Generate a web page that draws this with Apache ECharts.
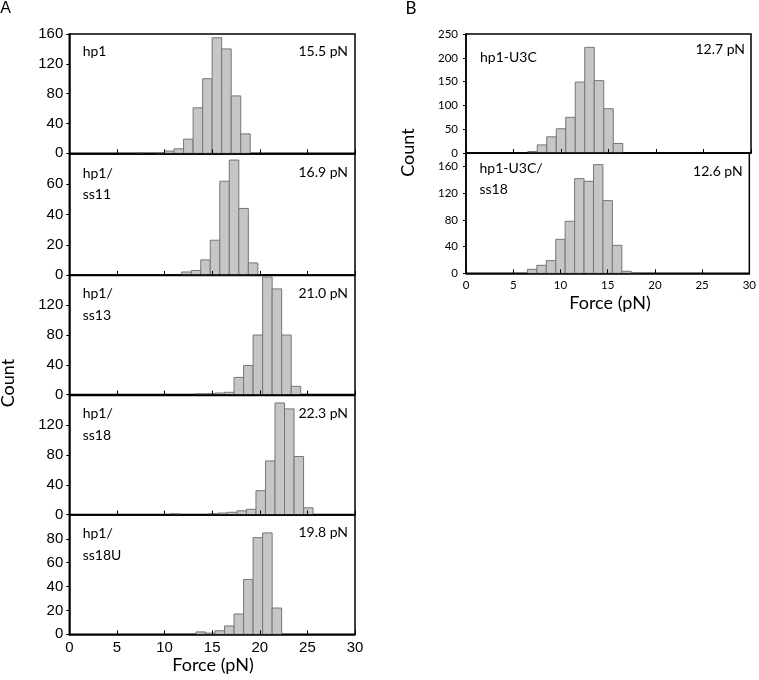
<!DOCTYPE html>
<html><head><meta charset="utf-8">
<script src="https://cdn.jsdelivr.net/npm/echarts@6/dist/echarts.min.js"></script>
<style>html,body{margin:0;padding:0;background:#fff}#c{width:759px;height:680px}</style>
</head><body><div id="c"></div>
<script>
// ---- data (bin left edges in pN, bin width 1 pN; counts) ----
const BIN_W = 1;
const binsHp1 = [7, 9, 10, 11, 12, 13, 14, 15, 16, 17, 18];
const countsHp1 = [1, 1, 3, 6, 19, 61, 100, 155, 140, 77, 26];
const binsSs11 = [11.8, 12.8, 13.8, 14.8, 15.8, 16.8, 17.8, 18.8];
const countsSs11 = [2, 3, 10, 23, 62, 76, 44, 8];
const binsSs13 = [13.3, 14.3, 15.3, 16.3, 17.3, 18.3, 19.3, 20.3, 21.3, 22.3, 23.3];
const countsSs13 = [1, 1, 2, 3, 23, 39, 80, 158, 142, 80, 11];
const binsSs18 = [10.6, 14.6, 15.6, 16.6, 17.6, 18.6, 19.6, 20.6, 21.6, 22.6, 23.6, 24.6];
const countsSs18 = [1, 1, 2, 3, 5, 7, 32, 72, 150, 142, 78, 9];
const binsSs18U = [13.3, 14.3, 15.3, 16.3, 17.3, 18.3, 19.3, 20.3, 21.3];
const countsSs18U = [2, 1, 3, 7, 17, 46, 81, 85, 22];
const binsU3C = [6.5, 7.5, 8.5, 9.5, 10.5, 11.5, 12.5, 13.5, 14.5, 15.5];
const countsU3C = [3, 17, 34, 51, 75, 149, 222, 152, 93, 20];
const binsU3CSs18 = [6.5, 7.5, 8.5, 9.5, 10.5, 11.5, 12.5, 13.5, 14.5, 15.5, 16.5, 17.5];
const countsU3CSs18 = [6, 12, 19, 51, 78, 142, 138, 163, 109, 42, 3, 1];

const panelNames = ['hp1', 'hp1/\nss11', 'hp1/\nss13', 'hp1/\nss18', 'hp1/\nss18U', 'hp1-U3C', 'hp1-U3C/\nss18'];
const meanForces = ['15.5 pN', '16.9 pN', '21.0 pN', '22.3 pN', '19.8 pN', '12.7 pN', '12.6 pN'];
const xTickLabels = [0, 5, 10, 15, 20, 25, 30];

// ---- layout ----
const seriesData = [
  [binsHp1, countsHp1], [binsSs11, countsSs11], [binsSs13, countsSs13],
  [binsSs18, countsSs18], [binsSs18U, countsSs18U], [binsU3C, countsU3C], [binsU3CSs18, countsU3CSs18]
];
const layout = [
  {left: 69.3, top: 34, width: 285.7, height: 119.3, ymax: 160, yint: 40, showMax: true, bottom: false, font: 'A'},
  {left: 69.3, top: 154, width: 285.7, height: 121, ymax: 80, yint: 20, showMax: false, bottom: false, font: 'A'},
  {left: 69.3, top: 275.5, width: 285.7, height: 119, ymax: 160, yint: 40, showMax: false, bottom: false, font: 'A'},
  {left: 69.3, top: 395.5, width: 285.7, height: 119, ymax: 160, yint: 40, showMax: false, bottom: false, font: 'A'},
  {left: 69.3, top: 515, width: 285.7, height: 119.3, ymax: 100, yint: 20, showMax: false, bottom: true, font: 'A'},
  {left: 466, top: 34, width: 285, height: 119, ymax: 250, yint: 50, showMax: true, bottom: false, font: 'B'},
  {left: 466, top: 153.3, width: 285, height: 120, ymax: 180, yint: 40, showMax: false, bottom: true, font: 'B'}
];
const labelPos = [
  {lx: 82.7, ly: 51.5, rx: 348, ry: 51},
  {lx: 82.7, ly: 173, rx: 348, ry: 172.5},
  {lx: 82.7, ly: 293.5, rx: 348, ry: 293.5},
  {lx: 82.7, ly: 413.5, rx: 348, ry: 413},
  {lx: 82.7, ly: 533.5, rx: 348, ry: 532.5},
  {lx: 480, ly: 57, rx: 745, ry: 49.5},
  {lx: 479.5, ly: 168, rx: 742.7, ry: 171.5}
];
const fontA = 'Liberation Sans, Arial, sans-serif';
const fontB = 'Lato, Open Sans, sans-serif';

function renderItem(params, api) {
  const x0 = api.value(0), c = api.value(1);
  const p1 = api.coord([x0, c]);
  const p2 = api.coord([x0 + BIN_W, 0]);
  return {
    type: 'rect',
    shape: {x: p1[0], y: p1[1], width: p2[0] - p1[0], height: p2[1] - p1[1]},
    style: {fill: '#c6c6c6', stroke: '#767676', lineWidth: 1}
  };
}

const grid = [], xAxis = [], yAxis = [], series = [], graphic = [];
layout.forEach((L, i) => {
  const ff = L.font === 'A' ? fontA : fontB;
  const fs = L.font === 'A' ? 15 : 11.5;
  grid.push({left: L.left, top: L.top, width: L.width, height: L.height,
    show: true, borderColor: '#000', borderWidth: 1.5, containLabel: false});
  xAxis.push({type: 'value', gridIndex: i, min: 0, max: 30, interval: 5, z: 5,
    axisLine: {show: true, onZero: false, lineStyle: {color: '#000', width: 1.5}},
    axisTick: {show: true, inside: true, length: 4, lineStyle: {color: '#000', width: 1}},
    splitLine: {show: false},
    axisLabel: {show: L.bottom, color: '#000', fontFamily: ff, fontSize: fs, margin: 6,
      formatter: v => xTickLabels.includes(v) ? String(v) : ''}});
  yAxis.push({type: 'value', gridIndex: i, min: 0, max: L.ymax, interval: L.yint, z: 5,
    axisLine: {show: true, lineStyle: {color: '#000', width: 1.5}},
    axisTick: {show: true, inside: false, length: 3, lineStyle: {color: '#000', width: 1}},
    splitLine: {show: false},
    axisLabel: {color: '#000', fontFamily: ff, fontSize: fs, margin: L.font === 'A' ? 6 : 8,
      showMaxLabel: L.showMax}});
  const [bins, counts] = seriesData[i];
  series.push({type: 'custom', xAxisIndex: i, yAxisIndex: i, z: 2,
    renderItem: renderItem, encode: {x: 0, y: 1},
    data: bins.map((b, k) => [b, counts[k]])});
  const P = labelPos[i];
  graphic.push({type: 'text', x: P.lx, y: P.ly, z: 10, style: {text: panelNames[i], fontFamily: fontB, fontSize: 14,
    fill: '#000', textAlign: 'left', textVerticalAlign: 'middle', lineHeight: 21.5}});
  graphic.push({type: 'text', x: P.rx, y: P.ry, z: 10, style: {text: meanForces[i], fontFamily: fontB, fontSize: 14,
    fill: '#000', textAlign: 'right', textVerticalAlign: 'middle'}});
});
// multi-line labels: vertical middle applies to the whole block, shift so first line center is at ly
graphic.forEach(g => {
  if (g.style.text.includes('\n')) { g.y = g.y + 10.75; }
});
graphic.push({type: 'text', x: 5.5, y: 9, style: {text: 'A', fontFamily: fontA, fontSize: 16, fill: '#000', textAlign: 'center', textVerticalAlign: 'middle'}});
graphic.push({type: 'text', x: 411, y: 9, style: {text: 'B', fontFamily: fontB, fontSize: 17, fill: '#000', textAlign: 'center', textVerticalAlign: 'middle'}});
graphic.push({type: 'text', x: 8, y: 383, rotation: Math.PI / 2, style: {text: 'Count', fontFamily: fontB, fontSize: 18, fill: '#000', textAlign: 'center', textVerticalAlign: 'middle'}});
graphic.push({type: 'text', x: 408, y: 152.5, rotation: Math.PI / 2, style: {text: 'Count', fontFamily: fontB, fontSize: 18, fill: '#000', textAlign: 'center', textVerticalAlign: 'middle'}});
graphic.push({type: 'text', x: 213, y: 665, style: {text: 'Force (pN)', fontFamily: fontB, fontSize: 18, fill: '#000', textAlign: 'center', textVerticalAlign: 'middle'}});
graphic.push({type: 'text', x: 610, y: 303, style: {text: 'Force (pN)', fontFamily: fontB, fontSize: 18, fill: '#000', textAlign: 'center', textVerticalAlign: 'middle'}});

const chart = echarts.init(document.getElementById('c'), null, {renderer: 'canvas'});
chart.setOption({animation: false, backgroundColor: '#fff', grid, xAxis, yAxis, series, graphic});
</script></body></html>
